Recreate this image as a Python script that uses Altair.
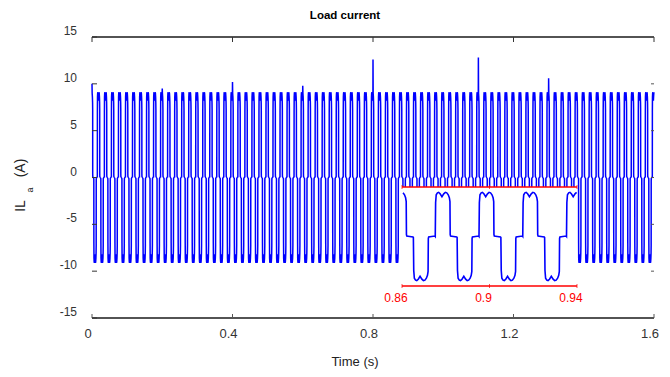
import altair as alt
import pandas as pd

# ---------------- data ----------------
# one period of the phase-a load current (phase in degrees from the start of the
# positive plateau, current in A)
cycle_phase_deg = [0, 3, 8, 18, 28, 40, 55, 70, 83, 95, 107, 116, 121, 123, 126, 150, 177,
                   180, 183, 188, 198, 208, 220, 235, 250, 263, 275, 287, 296, 301, 303, 306, 330, 357]
cycle_current = [0.0, 7.0, 8.6, 9.0, 9.1, 8.8, 8.2, 8.8, 9.1, 9.0, 8.6, 8.0, 7.2, 0.4, 0.1, 0.0, -0.1,
                 -0.2, -7.0, -8.6, -9.0, -9.1, -8.8, -8.2, -8.8, -9.1, -9.0, -8.6, -8.0, -7.2, -0.4, -0.1, 0.0, 0.1]
period_s = 0.02          # 50 Hz
first_rise_s = 0.0152    # time of a positive-plateau start
t_end = 1.6

# isolated spikes visible on the positive plateaus
spike_times = [0.0, 0.2, 0.4, 0.6, 0.8, 1.1, 1.3]
spike_peaks = [10.0, 9.5, 10.2, 9.8, 12.6, 12.8, 10.6]

x_domain = [0, 1.6]
y_domain = [-15, 15]
x_ticks = [0, 0.4, 0.8, 1.2, 1.6]
y_ticks = [-15, -10, -5, 0, 5, 10, 15]

inset_domain = [0.86, 0.94]
inset_ticks = [0.86, 0.9, 0.94]
inset_y_domain = [-10.2, 10.2]

title_text = "Load current"
x_title = "Time (s)"
y_title_parts = ["IL", "a", "(A)"]

# ---------------- build the series ----------------
rows = []
k = -1
while first_rise_s + k * period_s <= t_end:
    start = first_rise_s + k * period_s
    for ph, v in zip(cycle_phase_deg, cycle_current):
        t = start + ph / 360.0 * period_s
        if x_domain[0] <= t <= t_end:
            rows.append((round(t, 7), v))
    k += 1
for ts, pk in zip(spike_times, spike_peaks):
    rows.append((ts, pk))
df = pd.DataFrame(rows, columns=["t", "i"]).sort_values("t").reset_index(drop=True)
inset_df = df[(df.t >= inset_domain[0]) & (df.t <= inset_domain[1])]

FONT = "Liberation Sans"
LABEL = "#333333"

xs = alt.Scale(domain=x_domain, nice=False, zero=False)
ys = alt.Scale(domain=y_domain, nice=False, zero=False)


def X(field="t"):
    return alt.X(f"{field}:Q", scale=xs, axis=None)


def Y(field="i"):
    return alt.Y(f"{field}:Q", scale=ys, axis=None)


main_line = alt.Chart(df).mark_line(color="#0000ff", strokeWidth=1.5).encode(x=X(), y=Y())

top_df = pd.DataFrame({"t": [x_domain[0]], "t2": [x_domain[1]], "i": [y_domain[1]]})
bot_df = pd.DataFrame({"t": [x_domain[0]], "t2": [x_domain[1]], "i": [y_domain[0]]})
frame_top = alt.Chart(top_df).mark_rule(color="#1a1a1a", strokeWidth=1.4).encode(
    x=X(), x2="t2:Q", y=Y())
frame_bot = alt.Chart(bot_df).mark_rule(color="#1a1a1a", strokeWidth=1.4).encode(
    x=X(), x2="t2:Q", y=Y())

xt_df = pd.DataFrame({"t": x_ticks, "lab": [str(v) for v in x_ticks]})
yt_df = pd.DataFrame({"i": y_ticks, "lab": [str(v) for v in y_ticks]})
ticks_top = alt.Chart(xt_df).mark_rule(color="#333333", strokeWidth=1).encode(
    x=X(), y=alt.value(0), y2=alt.value(5))
ticks_bot = alt.Chart(xt_df).mark_rule(color="#555555", strokeWidth=1).encode(
    x=X(), y=alt.value(281), y2=alt.value(277))
ticks_left = alt.Chart(yt_df).mark_rule(color="#333333", strokeWidth=1).encode(
    y=Y(), x=alt.value(0), x2=alt.value(5))
ticks_right = alt.Chart(yt_df).mark_rule(color="#555555", strokeWidth=1).encode(
    y=Y(), x=alt.value(562), x2=alt.value(559))

x_labels = alt.Chart(xt_df).mark_text(
    font=FONT, fontSize=13, color=LABEL, align="center", baseline="middle", dx=-4).encode(
    x=X(), y=alt.value(297), text="lab:N")
y_labels = alt.Chart(yt_df).mark_text(
    font=FONT, fontSize=12, color=LABEL, align="right", baseline="middle", dy=-6).encode(
    y=Y(), x=alt.value(-15), text="lab:N")

xtitle_df = pd.DataFrame({"s": [x_title]})
x_title_mark = alt.Chart(xtitle_df).mark_text(
    font=FONT, fontSize=13, color="#222222", align="center", baseline="middle").encode(
    x=alt.value(263), y=alt.value(325), text="s:N")

yt_parts = [pd.DataFrame({"s": [p]}) for p in y_title_parts]
ytitle_il = alt.Chart(yt_parts[0]).mark_text(
    angle=270, font=FONT, fontSize=14, color="#222222", align="center", baseline="alphabetic").encode(
    x=alt.value(-67), y=alt.value(169), text="s:N")
ytitle_a = alt.Chart(yt_parts[1]).mark_text(
    angle=270, font=FONT, fontSize=9, color="#222222", align="center", baseline="alphabetic").encode(
    x=alt.value(-59), y=alt.value(153), text="s:N")
ytitle_unit = alt.Chart(yt_parts[2]).mark_text(
    angle=270, font=FONT, fontSize=14, color="#222222", align="center", baseline="alphabetic").encode(
    x=alt.value(-67), y=alt.value(131), text="s:N")

main_group = alt.layer(main_line, frame_top, frame_bot, ticks_top, ticks_bot, ticks_left,
                       ticks_right, x_labels, y_labels, x_title_mark,
                       ytitle_il, ytitle_a, ytitle_unit)

# ---------------- inset ----------------
ixs = alt.Scale(domain=inset_domain, range=[310, 485], nice=False, zero=False)
iys = alt.Scale(domain=inset_y_domain, range=[249, 150], nice=False, zero=False)


def IX(field="t"):
    return alt.X(f"{field}:Q", scale=ixs, axis=None)


def IY(field="i"):
    return alt.Y(f"{field}:Q", scale=iys, axis=None)


box_df = pd.DataFrame({"t": [inset_domain[0]], "t2": [inset_domain[1]],
                       "i": [inset_y_domain[0]], "i2": [inset_y_domain[1]]})
inset_bg = alt.Chart(box_df).mark_rect(fill="white").encode(
    x=IX(), x2="t2:Q", y=IY(), y2="i2:Q")

edge_df = pd.DataFrame({"t": [inset_domain[0]] * 2, "t2": [inset_domain[1]] * 2,
                        "i": inset_y_domain})
inset_edges = alt.Chart(edge_df).mark_rule(color="#ff0000", strokeWidth=1.6).encode(
    x=IX(), x2="t2:Q", y=IY())

itick_df = pd.DataFrame({"t": inset_ticks * 2,
                         "i": [inset_y_domain[0]] * 3 + [inset_y_domain[1]] * 3})
inset_ticks_mark = alt.Chart(itick_df).mark_tick(color="#ff0000", size=4, thickness=1,
                                                 orient="vertical").encode(x=IX(), y=IY())

ilab_df = pd.DataFrame({"t": inset_ticks, "i": [inset_y_domain[0]] * 3,
                        "lab": [str(v) for v in inset_ticks]})
inset_labels = alt.Chart(ilab_df).mark_text(
    color="#ff0000", font=FONT, fontSize=12, dy=12, dx=-6, baseline="middle", align="center").encode(
    x=IX(), y=IY(), text="lab:N")

inset_line = alt.Chart(inset_df).mark_line(color="#0000ff", strokeWidth=1.6).encode(x=IX(), y=IY())

inset_group = alt.layer(inset_bg, inset_line, inset_edges, inset_ticks_mark, inset_labels)

chart = alt.layer(main_group, inset_group).resolve_scale(
    x="independent", y="independent"
).properties(
    width=562, height=281,
    padding={"left": 92, "top": 37, "right": 16, "bottom": 59},
    autosize=alt.AutoSizeParams(type="none"),
    background="white",
    title=alt.TitleParams(title_text, font=FONT, fontSize=11.5, fontWeight="bold",
                          color="black", anchor="middle", dx=-28, offset=4),
).configure_view(stroke=None)

chart.save("out.html", embed_options={"renderer": "svg", "actions": False})
